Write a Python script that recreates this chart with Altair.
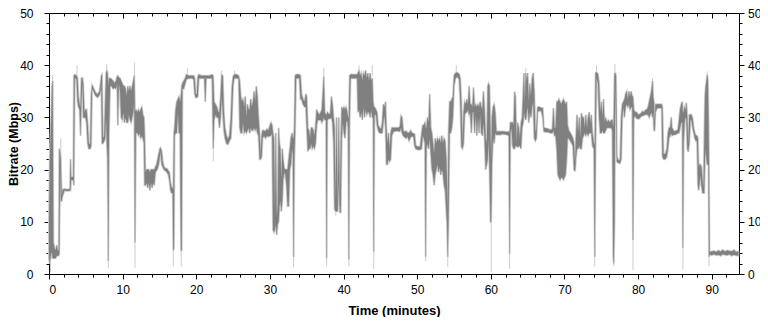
import altair as alt
import pandas as pd

# (time in minutes, low Mbps, high Mbps) envelope of the bitrate trace
SEG_A = [
    (0.0, 3, 10), (0.1, 2, 22), (0.2, 3, 26), (0.3, 4, 30), (0.4, 4, 36), (0.5, 3, 37),
    (0.6, 3, 6), (0.75, 3, 5), (0.9, 3, 4.5), (1.05, 3.5, 5.5), (1.2, 3.5, 4.5), (1.32, 3.5, 4.5),
    (1.4, 4, 24), (1.5, 21, 23.5), (1.6, 14, 22), (1.72, 14, 15), (1.85, 15, 16.2), (2.1, 16, 16.3),
    (2.5, 15.9, 16.2), (2.85, 16, 16.3), (2.92, 16, 22), (3.0, 18, 18.6), (3.3, 18, 18.6),
    (3.38, 17, 38), (3.5, 37.5, 38.2), (3.75, 37.3, 38), (3.88, 33, 37.5), (4.0, 32, 34),
    (4.15, 31.5, 32.5), (4.28, 26.5, 32), (4.4, 33, 37.5), (4.55, 36.8, 37.6), (4.65, 30, 36.5),
    (4.8, 30, 31), (4.95, 30, 31.5), (5.1, 29, 31.5), (5.25, 25, 29), (5.4, 24, 25), (5.6, 24, 24.8),
    (5.72, 24.5, 34), (5.85, 35.5, 36.2), (6.05, 35, 35.6), (6.3, 34.2, 34.8), (6.6, 33.8, 34.4),
    (6.85, 34.3, 35), (7.0, 35, 36.5), (7.1, 36.5, 38), (7.2, 25, 38.2), (7.32, 25, 26),
    (7.5, 25.5, 26.5), (7.62, 26, 32), (7.75, 30, 38.5), (7.85, 25, 39), (7.95, 22, 38.5),
    (8.05, 2.5, 36), (8.15, 27, 37.5), (8.3, 36, 37.5), (8.5, 36, 37.3), (8.7, 35.5, 37),
    (8.9, 35.7, 36.5), (9.1, 35.5, 37), (9.25, 36.5, 37.8), (9.35, 28.5, 38), (9.5, 36.5, 37.6),
    (9.65, 35, 37.5), (9.8, 30, 37), (9.95, 29.5, 36.5), (10.1, 31, 36), (10.25, 29, 36),
    (10.4, 30, 35.5), (10.55, 29, 34), (10.7, 29, 36), (10.85, 30.5, 35), (11.0, 29.5, 36),
    (11.15, 29, 35), (11.3, 30, 36), (11.45, 31, 37), (11.58, 33, 38), (11.68, 6, 31),
    (11.8, 27, 31.5),
]
SEG_B = [
    (12.0, 27, 31), (12.15, 26.5, 31.5), (12.3, 27, 31), (12.45, 26, 31.5), (12.6, 26.5, 32),
    (12.75, 26, 30.5), (12.9, 25, 30), (12.98, 17, 27), (13.1, 17, 19.5), (13.25, 17.5, 20),
    (13.4, 16.5, 20), (13.55, 17.5, 20), (13.7, 16, 19.5), (13.85, 17.5, 20), (14.0, 16.5, 20),
    (14.15, 17.5, 20), (14.3, 17, 20), (14.45, 19.5, 20.5), (14.6, 19.8, 21), (14.75, 20.2, 22),
    (14.9, 21, 23), (15.05, 22.5, 24), (15.15, 23.5, 24.2), (15.3, 21, 23.5), (15.45, 20.5, 21.5),
    (15.6, 20, 20.6), (15.8, 19.8, 20.2), (16.0, 19.5, 20.2), (16.2, 19, 19.8), (16.35, 18, 19.5),
    (16.5, 16, 17.5), (16.65, 15.5, 16.5), (16.8, 15.5, 16.5), (16.88, 4.5, 16), (16.97, 5, 27),
    (17.05, 26.5, 28), (17.2, 27, 31.5), (17.35, 27, 33), (17.5, 31, 33.5), (17.65, 27, 34),
    (17.8, 27, 33), (17.92, 4.5, 34), (18.02, 4.5, 36), (18.12, 35.5, 36.5), (18.3, 35.5, 37),
    (18.5, 36.5, 37.5), (18.65, 37.3, 38.2), (19.0, 37.5, 38), (19.4, 37.5, 38), (19.65, 37.3, 38),
    (19.78, 34.5, 37.5), (19.92, 33.8, 34.5), (20.08, 33.8, 34.5), (20.2, 34, 37.8),
    (20.35, 37.5, 38.2), (20.7, 37.5, 38), (21.1, 37.5, 38), (21.22, 33, 38), (21.35, 37.5, 38),
    (21.8, 37.5, 38), (22.15, 37.5, 38.2), (22.3, 24, 38), (22.42, 29.5, 33), (22.6, 30.5, 32.5),
    (22.8, 30, 32), (23.0, 30, 31), (23.15, 28, 31), (23.3, 30, 34), (23.45, 34, 38.2),
    (23.6, 31, 38), (23.75, 27.5, 31), (23.9, 26, 28), (24.1, 25, 26.5), (24.3, 24.8, 25.8),
    (24.5, 25.5, 26.5), (24.7, 26, 30), (24.85, 30, 36), (25.0, 36, 37.8), (25.15, 37.5, 38.2),
    (25.5, 37.5, 38.2), (25.75, 37.5, 38), (25.9, 28, 37), (26.05, 27, 34), (26.2, 27, 33),
    (26.35, 29, 33.5), (26.5, 27, 32), (26.65, 27.5, 34), (26.8, 27, 30), (26.95, 27.5, 32.5),
    (27.1, 28, 31.5), (27.25, 27, 31.5), (27.4, 28, 33.5), (27.55, 27.5, 32), (27.7, 27.5, 33),
    (27.85, 28, 35), (28.0, 27.5, 33), (28.15, 28, 36), (28.3, 27, 34), (28.45, 26.5, 30),
    (28.6, 22, 27), (28.75, 22, 22.8), (28.88, 22.5, 26.5), (29.0, 26, 27.5), (29.2, 26.5, 27.5),
    (29.4, 26, 27.3), (29.6, 26.5, 27.8), (29.8, 26.3, 27.5), (30.0, 26.5, 28.5),
    (30.15, 26.5, 29), (30.3, 27, 28.5),
]
SEG_C = [
    (30.42, 8.5, 27), (30.55, 8, 26), (30.68, 8.5, 12), (30.8, 9.5, 27), (30.92, 7.5, 11),
    (31.05, 9.5, 13), (31.18, 10, 28), (31.3, 13, 25), (31.42, 14, 24), (31.55, 12, 18),
    (31.68, 14, 24), (31.8, 18, 22), (31.95, 19.5, 20.2), (32.1, 19, 20), (32.25, 17, 20),
    (32.4, 13, 20), (32.55, 13, 22), (32.7, 20, 24), (32.85, 21, 26), (33.0, 24, 27),
    (33.12, 23, 26), (33.22, 3.3, 26), (33.32, 22, 28), (33.42, 27, 38), (33.55, 37.5, 38.2),
    (34.0, 37.5, 38.2), (34.15, 33.5, 38), (34.3, 33.5, 34.5), (34.5, 32.5, 33.5), (34.7, 32, 33),
    (34.88, 32, 34.5), (35.0, 28, 34), (35.15, 23.5, 28), (35.3, 24, 27.5), (35.45, 24, 26),
    (35.6, 25, 28), (35.75, 24, 28), (35.9, 24.5, 27.5), (36.05, 24, 26.5), (36.2, 25, 28.5),
    (36.35, 28.5, 31.5), (36.5, 29.5, 31), (36.7, 29.5, 30.5), (36.9, 29.5, 31), (37.05, 29, 31.5),
    (37.2, 29.5, 35), (37.32, 30, 37.8), (37.45, 29.5, 31), (37.62, 29.5, 30.5), (37.7, 3, 30.5),
    (37.8, 29.5, 31), (38.0, 29.8, 30.6), (38.2, 29.8, 30.8), (38.35, 30, 34), (38.5, 29, 32.5),
    (38.65, 25, 30), (38.78, 12.5, 28), (38.9, 12, 14), (39.05, 12, 30), (39.2, 12, 13),
    (39.35, 18, 30), (39.5, 11.8, 13), (39.62, 11.8, 25), (39.75, 26, 32), (39.9, 29, 31.5),
    (40.05, 27, 32), (40.2, 26, 31.5), (40.35, 29, 32), (40.5, 29.5, 31), (40.62, 28, 30),
    (40.72, 2.8, 30), (40.82, 29, 38), (40.95, 37.5, 38.2), (41.4, 37.5, 38.2), (41.85, 37.5, 38.2),
    (41.95, 31, 38.5), (42.1, 31.5, 39), (42.25, 30, 38), (42.4, 31, 38.5), (42.55, 29.5, 37),
    (42.7, 32, 38.5), (42.85, 30, 38), (43.0, 31.5, 39), (43.15, 30.5, 37.5), (43.3, 31, 38.5),
    (43.45, 31, 37), (43.6, 30, 38.5), (43.75, 31.5, 37), (43.9, 30, 37.5), (44.02, 30, 33),
    (44.1, 4.3, 32), (44.2, 30.5, 32), (44.4, 30.5, 31.5), (44.55, 28.5, 31), (44.7, 27.5, 28.5),
    (44.9, 27, 28), (45.1, 27, 27.8), (45.25, 27, 29), (45.4, 29, 32.5), (45.55, 30.5, 32),
    (45.7, 28, 33), (45.82, 21, 28), (45.95, 21, 25), (46.1, 22, 27), (46.25, 21.5, 24),
    (46.4, 22, 27), (46.55, 26.5, 28), (46.8, 27.3, 28), (47.1, 27.4, 28), (47.4, 27.4, 28),
    (47.65, 27.3, 28.2), (47.8, 28, 30.3), (47.95, 27, 30), (48.1, 26.5, 27.5), (48.3, 26.2, 27.2),
    (48.5, 26, 27.4), (48.7, 26.3, 27), (48.9, 25.5, 27), (49.1, 26.2, 27.5), (49.3, 26.4, 27),
    (49.5, 26.3, 26.9), (49.65, 24.5, 26.8), (49.8, 24, 24.6), (50.1, 23.8, 24.4),
    (50.4, 23.8, 24.4), (50.6, 24, 27), (50.75, 26.5, 28.5), (50.9, 26, 28.5), (51.05, 25, 29),
    (51.15, 3.3, 28), (51.25, 24, 28), (51.4, 25, 30), (51.55, 24, 29), (51.7, 26, 34.5),
    (51.85, 23, 28), (52.0, 20, 27),
]
SEG_D = [
    (52.15, 19, 25), (52.3, 17, 23), (52.45, 19, 26), (52.6, 20, 25), (52.75, 21, 26),
    (52.9, 19.5, 25.5), (53.05, 20.5, 26), (53.2, 19, 25), (53.35, 20, 26.5), (53.5, 19.2, 25),
    (53.65, 17, 26), (53.8, 16, 25.5), (53.95, 12, 22), (54.05, 9.7, 18), (54.15, 3.3, 12),
    (54.25, 10, 27), (54.4, 27, 33), (54.55, 27, 33), (54.7, 28, 33.5), (54.85, 30, 34),
    (55.0, 36, 38), (55.2, 37.5, 38.5), (55.45, 37.8, 38.6), (55.7, 37.3, 38.3), (55.85, 33, 37.5),
    (56.0, 24.4, 33), (56.15, 24, 25), (56.3, 25, 31), (56.45, 30.5, 33), (56.6, 31, 32.5),
    (56.75, 31, 33.5), (56.9, 31.5, 32.5), (57.05, 30.5, 36), (57.2, 31, 32.5), (57.35, 27, 32.5),
    (57.5, 31, 32), (57.65, 31, 35.7), (57.8, 27, 32), (57.95, 30.5, 32.5), (58.1, 26.5, 32),
    (58.25, 30, 32.5), (58.4, 27, 32), (58.55, 30.5, 33), (58.7, 27, 32), (58.85, 26.5, 31.5),
    (59.0, 29, 35), (59.15, 26, 31.5), (59.3, 20, 26), (59.45, 21, 25), (59.58, 22, 36),
    (59.7, 26, 36.5), (59.82, 20, 36), (59.95, 10, 27), (60.05, 10, 22), (60.15, 21, 30),
    (60.3, 26, 32), (60.45, 25, 32.5), (60.6, 27, 31), (60.75, 26.7, 27.3), (61.2, 26.7, 27.3),
    (61.7, 26.8, 27.3), (62.2, 26.7, 27.2), (62.45, 26.5, 27.3), (62.55, 3.9, 27), (62.65, 27, 29),
    (62.8, 28, 29), (62.95, 24.5, 29), (63.1, 24, 28.5), (63.22, 24, 34.9), (63.35, 24.5, 34),
    (63.5, 24.5, 25), (63.65, 24.3, 29), (63.8, 24.5, 28), (63.95, 24.5, 26), (64.1, 24, 29),
    (64.25, 28, 30), (64.4, 29, 35), (64.5, 31, 38.5), (64.62, 30, 33), (64.75, 29.5, 38.5),
    (64.88, 31, 37), (65.0, 32, 38.5), (65.15, 29, 33), (65.3, 31, 36.5), (65.45, 30, 34),
    (65.6, 32, 37.5), (65.75, 33, 38.5), (65.9, 26, 35), (66.05, 25.5, 27), (66.2, 26, 28),
    (66.35, 31, 32), (66.6, 31.3, 32), (66.85, 31.2, 31.8), (67.05, 30, 31.8), (67.2, 27.3, 28),
    (67.5, 27.2, 27.9), (67.8, 27.2, 27.8), (68.1, 27, 27.6), (68.35, 27, 27.8), (68.5, 27.5, 31.8),
    (68.65, 26.5, 28), (68.8, 26.5, 28), (68.95, 24, 33), (69.1, 19, 33), (69.25, 18.5, 33.5),
    (69.4, 18, 33), (69.55, 18.5, 32.5), (69.7, 18.5, 33), (69.85, 18, 33.5), (70.0, 18.5, 33),
    (70.15, 19, 32.5), (70.3, 22, 33),
]
SEG_E = [
    (70.42, 26, 28.5), (70.6, 26, 27.5), (70.8, 25.5, 27), (71.0, 25, 26.5), (71.15, 24.5, 26),
    (71.3, 19.9, 25), (71.45, 19.8, 21), (71.55, 22, 26), (71.7, 24, 30.5), (71.85, 24, 27),
    (72.0, 24.5, 30), (72.15, 24, 26), (72.3, 24, 30.8), (72.45, 26, 30), (72.6, 26.5, 30),
    (72.75, 27, 28), (72.9, 26.5, 30.5), (73.05, 27, 28), (73.2, 26.5, 30), (73.35, 27, 31),
    (73.5, 27, 29), (73.65, 27, 30.5), (73.8, 24.5, 27), (74.0, 24, 25), (74.12, 3.3, 25),
    (74.22, 24, 38.5), (74.35, 37.5, 38.7), (74.55, 36.5, 38.3), (74.7, 30, 36.5), (74.85, 27, 31),
    (75.0, 27, 33), (75.15, 27.5, 30), (75.3, 27, 33.5), (75.45, 27, 29), (75.6, 27.5, 30),
    (75.75, 28, 29), (75.95, 28, 29.5), (76.15, 28, 29), (76.35, 28, 29.5), (76.5, 27.5, 29.5),
    (76.62, 3.3, 28), (76.7, 2, 30), (76.8, 10, 38.4), (76.9, 37.5, 38.5), (77.0, 30, 38),
    (77.12, 21.5, 22.5), (77.3, 21.3, 21.8), (77.55, 21.2, 21.8), (77.7, 22, 30), (77.85, 30, 32.5),
    (78.0, 32, 33), (78.15, 30, 33.5), (78.3, 32, 34.5), (78.45, 32.5, 35), (78.6, 32, 33.5),
    (78.75, 32.5, 35), (78.9, 31.5, 34), (79.05, 32, 35), (79.2, 32, 34), (79.3, 6.5, 34),
    (79.42, 30, 31.5), (79.6, 30.2, 31), (79.8, 29.8, 31), (80.0, 29.7, 30.5), (80.2, 29.8, 30.6),
    (80.4, 30.2, 30.8), (80.6, 30.3, 31.2), (80.8, 30.4, 31), (81.0, 30.6, 31.4), (81.2, 30.5, 31.5),
    (81.35, 30.5, 32), (81.5, 30, 33), (81.65, 30.5, 34), (81.8, 31, 35), (81.95, 30, 37),
    (82.05, 31, 34), (82.15, 27.5, 33), (82.25, 27.5, 28.5), (82.35, 31, 32.5), (82.6, 31.8, 32.5),
    (82.9, 31.8, 32.5), (83.2, 31.8, 32.5), (83.3, 22.5, 32), (83.45, 22, 23), (83.7, 22, 23),
    (83.9, 22.5, 24), (84.05, 24, 27), (84.2, 26, 28), (84.35, 26.5, 28), (84.5, 27, 30),
    (84.6, 26.5, 28), (84.8, 26.7, 27.5), (85.0, 26.7, 27.3), (85.2, 26.8, 27.5), (85.4, 27, 27.6),
    (85.55, 27, 29.5), (85.7, 28, 31.5), (85.85, 29, 32.5), (86.0, 29, 33), (86.08, 5, 31),
    (86.18, 25, 31), (86.3, 29, 32), (86.45, 30, 31.5), (86.55, 29.8, 32.8), (86.68, 24, 30),
    (86.8, 23.4, 25), (86.95, 25, 30.5), (87.1, 29.5, 30.5), (87.25, 29.5, 30.5), (87.4, 28, 29.8),
    (87.55, 27, 28), (87.7, 26, 27), (87.85, 25.5, 26.5), (88.0, 25.5, 26.5), (88.12, 17, 26),
    (88.22, 16, 20.5), (88.32, 17, 21), (88.45, 19, 21), (88.6, 17, 20.5), (88.75, 15.5, 18),
    (88.88, 15.5, 16.5), (88.98, 15.5, 26), (89.08, 22, 34), (89.18, 24, 36), (89.28, 22, 37),
    (89.38, 21, 38.2), (89.48, 21, 37), (89.56, 21, 30), (89.62, 3.3, 22), (89.7, 3.8, 4.2),
    (90.0, 3.6, 4.3), (90.3, 3.8, 4.4), (90.6, 3.6, 4.2), (90.9, 3.7, 4.5), (91.2, 3.5, 4.3),
    (91.5, 3.8, 4.6), (91.8, 3.7, 4.3), (92.1, 3.6, 4.5), (92.4, 3.8, 4.4), (92.7, 3.5, 4.3),
    (93.0, 3.7, 4.6), (93.3, 3.6, 4.2), (93.6, 3.5, 4.3),
]
# light-grey peak extents (time, low, high)
LIGHT = [
    (0.2, 0.3, 6), (0.5, 35, 38), (1.6, 13, 26), (3.8, 38, 40), (7.85, 38, 40.2), (8.05, 1.2, 5),
    (11.6, 37, 40.5), (11.68, 1.2, 6), (16.88, 1.4, 5), (17.95, 1.4, 5), (18.8, 38, 39.5),
    (22.3, 21.5, 24), (23.45, 38, 39), (25.2, 38, 39), (33.22, 1.3, 4), (37.32, 37, 39.5),
    (37.7, 1.5, 3.5), (38.95, 11.2, 12.5), (40.72, 1.5, 3.5), (42.1, 38, 40), (43.9, 38, 40),
    (44.1, 1, 5), (51.15, 2.5, 4), (54.15, 1.4, 4), (55.3, 38, 40), (60.05, 0.4, 10),
    (62.55, 1, 4), (64.75, 38, 39.5), (74.12, 1.4, 4), (74.35, 38.5, 40), (76.7, 1.5, 3),
    (76.85, 38.5, 40.2), (79.3, 0.8, 7), (81.95, 36.5, 37.5), (86.08, 0.8, 5), (89.62, 1.5, 4),
    (89.38, 38, 38.8),
]

X_TICKS = list(range(0, 94, 2))
Y_TICKS = list(range(0, 51, 2))

trace = pd.DataFrame(SEG_A + SEG_B + SEG_C + SEG_D + SEG_E, columns=["t", "lo", "hi"])
light = pd.DataFrame(LIGHT, columns=["t", "lo", "hi"])

W, H = 690, 261
xs = alt.Scale(domain=[0, 93.7], nice=False, zero=False)
ys = alt.Scale(domain=[0, 50], nice=False)
FONT = "Liberation Sans"
major10 = "datum.value % 10 === 0"
tick_size = {"condition": {"test": major10, "value": 5}, "value": 3}

common_axis = dict(domainColor="black", tickColor="black", labelColor="black",
                   labelFont=FONT, labelFontSize=12, titleFont=FONT,
                   titleFontWeight="bold", titleColor="black", grid=False,
                   labelExpr=f"{major10} ? datum.label : ''", tickSize=tick_size,
                   labelOverlap=False)

x_bottom = alt.Axis(orient="bottom", values=X_TICKS, title="Time (minutes)", labelPadding=5,
                    titleX=345, titleY=36, titleAlign="center", titleBaseline="middle",
                    titleFontSize=13, **common_axis)
y_left = alt.Axis(orient="left", values=Y_TICKS, title="Bitrate (Mbps)", labelPadding=11,
                  titleX=-36, titleY=H / 2, titleAlign="center", titleBaseline="middle",
                  titleFontSize=12.5, **common_axis)
x_top = alt.Axis(orient="bottom", offset=-H, values=X_TICKS, title=None, labels=False,
                 **common_axis)
y_right = alt.Axis(orient="right", values=Y_TICKS, title=None, labelPadding=3.5, **common_axis)


def enc(ch):
    return ch.encode(
        x=alt.X("t:Q", scale=xs, axis=x_bottom),
        y=alt.Y("lo:Q", scale=ys, axis=y_left),
        y2="hi:Q",
    )


light_rules = enc(alt.Chart(light).mark_rule(color="#cccccc", strokeWidth=1))
halo = enc(alt.Chart(trace).mark_area(color="#d6d6d6", stroke="#d6d6d6", strokeWidth=2))
dark = enc(alt.Chart(trace).mark_area(color="#808080", stroke="#808080", strokeWidth=0.3))

frame = alt.Chart(trace).mark_point(opacity=0).encode(
    x=alt.X("t:Q", scale=xs, axis=x_top),
    y=alt.Y("lo:Q", scale=ys, axis=y_right),
)

chart = alt.layer(alt.layer(light_rules, halo, dark), frame).resolve_axis(
    x="independent", y="independent"
).properties(
    width=W, height=H,
    autosize=alt.AutoSizeParams(type="none"),
    padding={"left": 41, "top": 5, "right": 21, "bottom": 43},
    background="white",
).configure_view(stroke=None)

chart.save("out.html", embed_options={"renderer": "svg", "actions": False})
